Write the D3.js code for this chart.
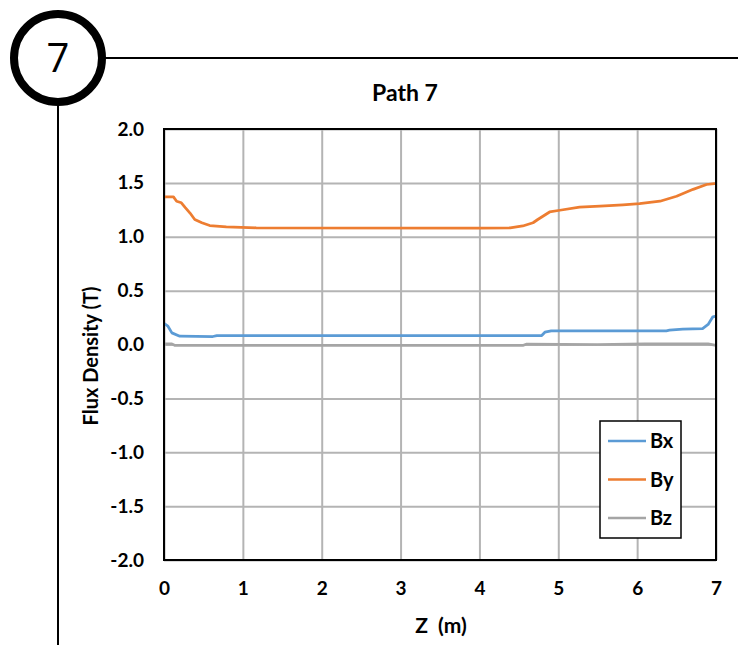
<!DOCTYPE html>
<html>
<head>
<meta charset="utf-8">
<script src="https://cdn.jsdelivr.net/npm/d3@7"></script>
<style>
  body { margin: 0; background: #fff; }
  text { font-family: Lato, "Open Sans", sans-serif; }
</style>
</head>
<body>
<script>
// Values
var seriesNames = ["Bx", "By", "Bz"];
var seriesColors = ["#5b9bd5", "#ed7d31", "#a5a5a5"];

var zBx = [0, 0.05, 0.1, 0.2, 0.62, 0.67, 4.79, 4.83, 4.91, 6.37, 6.41, 6.58, 6.83, 6.9, 6.96, 7.0];
var bx  = [0.195, 0.17, 0.108, 0.077, 0.074, 0.083, 0.083, 0.114, 0.127, 0.127, 0.133, 0.142, 0.148, 0.186, 0.257, 0.263];

var zBy = [0, 0.12, 0.16, 0.22, 0.27, 0.33, 0.39, 0.48, 0.58, 0.79, 1.17, 4.0, 4.39, 4.55, 4.68, 4.74, 4.89, 5.02, 5.27, 5.53, 5.82, 6.03, 6.29, 6.5, 6.71, 6.88, 6.98, 7.0];
var by  = [1.37, 1.37, 1.33, 1.315, 1.27, 1.22, 1.16, 1.13, 1.104, 1.092, 1.083, 1.08, 1.082, 1.1, 1.13, 1.16, 1.23, 1.246, 1.274, 1.284, 1.296, 1.308, 1.33, 1.376, 1.44, 1.485, 1.494, 1.494];

var zBz = [0, 0.1, 0.14, 4.55, 4.6, 5.5, 6.1, 6.9, 7.0];
var bz  = [0.006, 0.006, -0.009, -0.009, 0.004, 0.0, 0.006, 0.006, -0.008];

var xTicks = [0, 1, 2, 3, 4, 5, 6, 7];
var yTicks = [-2, -1.5, -1, -0.5, 0, 0.5, 1, 1.5, 2];

var width = 738, height = 645;
var plotLeft = 164, plotRight = 716, plotTop = 129, plotBottom = 560;

var svg = d3.select("body").append("svg")
  .attr("width", width)
  .attr("height", height);

// Frame decoration: numbered circle with lines
svg.append("line")
  .attr("x1", 104).attr("y1", 58).attr("x2", width).attr("y2", 58)
  .attr("stroke", "#000").attr("stroke-width", 2);
svg.append("line")
  .attr("x1", 58).attr("y1", 104).attr("x2", 58).attr("y2", height)
  .attr("stroke", "#000").attr("stroke-width", 2);
svg.append("circle")
  .attr("cx", 58).attr("cy", 58).attr("r", 44)
  .attr("fill", "#fff").attr("stroke", "#000").attr("stroke-width", 8);
svg.append("text")
  .attr("x", 58).attr("y", 72)
  .attr("text-anchor", "middle")
  .attr("font-size", "40px")
  .style("font-family", "'Open Sans', sans-serif")
  .text("7");

var x = d3.scaleLinear().domain([0, 7]).range([plotLeft, plotRight]);
var y = d3.scaleLinear().domain([-2, 2]).range([plotBottom, plotTop]);

// Gridlines
svg.append("g")
  .attr("transform", "translate(0," + plotBottom + ")")
  .call(d3.axisBottom(x).tickValues(xTicks).tickSize(-(plotBottom - plotTop)).tickFormat(""))
  .call(g => g.select(".domain").remove())
  .call(g => g.selectAll("line").attr("stroke", "#b4b4b4").attr("stroke-width", 2));
svg.append("g")
  .attr("transform", "translate(" + plotLeft + ",0)")
  .call(d3.axisLeft(y).tickValues(yTicks).tickSize(-(plotRight - plotLeft)).tickFormat(""))
  .call(g => g.select(".domain").remove())
  .call(g => g.selectAll("line").attr("stroke", "#b4b4b4").attr("stroke-width", 2));

// Tick labels (plain hyphen for negatives, like the original)
var yFormat = d => d3.format(".1f")(d).replace("\u2212", "-");
svg.append("g")
  .attr("transform", "translate(0," + plotBottom + ")")
  .call(d3.axisBottom(x).tickValues(xTicks).tickSize(0).tickPadding(22).tickFormat(d3.format("d")))
  .call(g => g.select(".domain").remove())
  .call(g => g.selectAll("text").attr("font-size", "19px").attr("font-weight", "bold").attr("fill", "#000"));
svg.append("g")
  .attr("transform", "translate(" + plotLeft + ",0)")
  .call(d3.axisLeft(y).tickValues(yTicks).tickSize(0).tickPadding(20).tickFormat(yFormat))
  .call(g => g.select(".domain").remove())
  .call(g => g.selectAll("text").attr("font-size", "19px").attr("font-weight", "bold").attr("fill", "#000"));

// Series lines
var line = d3.line().x(d => x(d[0])).y(d => y(d[1]));
var series = [d3.zip(zBx, bx), d3.zip(zBy, by), d3.zip(zBz, bz)];
[2, 1, 0].forEach(function(k) {
  svg.append("path")
    .datum(series[k])
    .attr("d", line)
    .attr("fill", "none")
    .attr("stroke", seriesColors[k])
    .attr("stroke-width", 2.75)
    .attr("stroke-linejoin", "round");
});

// Plot border
svg.append("rect")
  .attr("x", plotLeft).attr("y", plotTop)
  .attr("width", plotRight - plotLeft).attr("height", plotBottom - plotTop)
  .attr("fill", "none").attr("stroke", "#000").attr("stroke-width", 2);

// Titles
svg.append("text")
  .attr("x", 405).attr("y", 101)
  .attr("text-anchor", "middle")
  .attr("font-size", "23px").attr("font-weight", "bold")
  .text("Path 7");
svg.append("text")
  .attr("x", 441).attr("y", 633)
  .attr("text-anchor", "middle")
  .attr("font-size", "21px").attr("font-weight", "bold")
  .style("white-space", "pre")
  .text("Z  (m)");
svg.append("text")
  .attr("transform", "translate(98,356) rotate(-90)")
  .attr("text-anchor", "middle")
  .attr("font-size", "20px").attr("font-weight", "bold")
  .text("Flux Density (T)");

// Legend
var legend = svg.append("g").attr("transform", "translate(600,421)");
legend.append("rect")
  .attr("width", 81).attr("height", 117)
  .attr("fill", "#fff").attr("stroke", "#000").attr("stroke-width", 1.5);
seriesNames.forEach(function(name, i) {
  var ly = 20 + i * 38.5;
  legend.append("line")
    .attr("x1", 8).attr("x2", 46).attr("y1", ly).attr("y2", ly)
    .attr("stroke", seriesColors[i]).attr("stroke-width", 2.5);
  legend.append("text")
    .attr("x", 50).attr("y", ly + 7)
    .attr("font-size", "20px").attr("font-weight", "bold")
    .text(name);
});
</script>
</body>
</html>
